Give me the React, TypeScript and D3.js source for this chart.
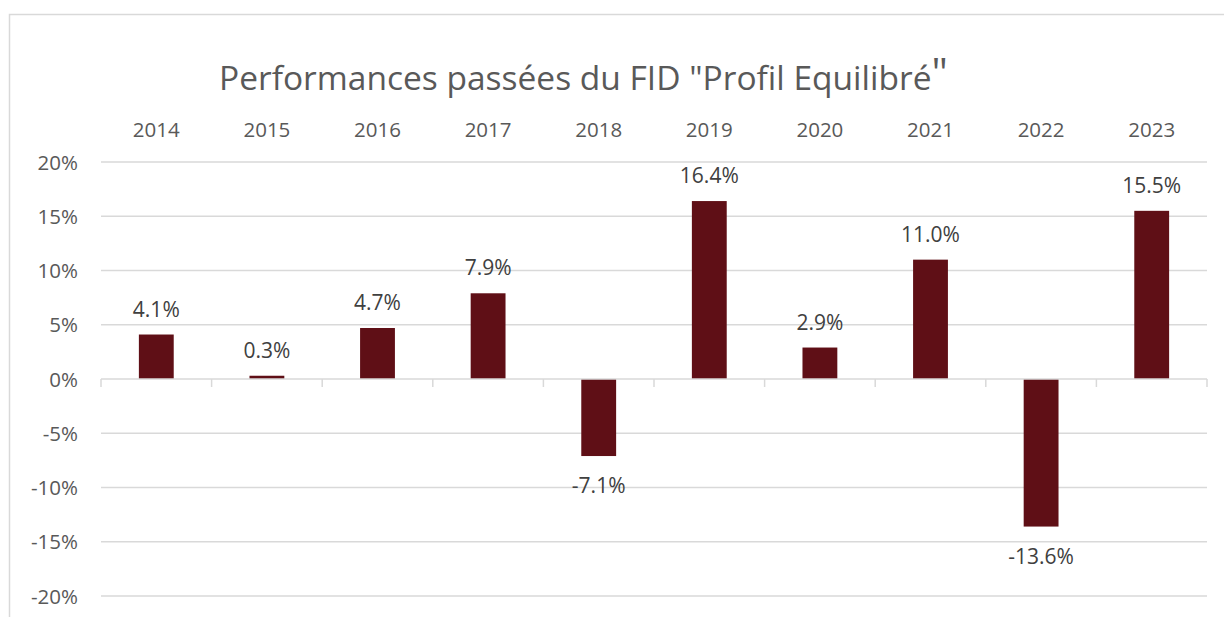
import React from "react";
import * as d3 from "d3";

const years = ["2014", "2015", "2016", "2017", "2018", "2019", "2020", "2021", "2022", "2023"];
const perf = [4.1, 0.3, 4.7, 7.9, -7.1, 16.4, 2.9, 11.0, -13.6, 15.5];
const yTicks = [20, 15, 10, 5, 0, -5, -10, -15, -20];
const titleText = 'Performances passées du FID "Profil Equilibré';
const titleEnd = '"';

const W = 1224;
const H = 617;
const left = 101;
const right = 1207;
const top = 162;
const bottom = 596;
const font = "'Open Sans', 'Noto Sans', sans-serif";
const textColor = "#595959";
const labelColor = "#404040";
const gridColor = "#d9d9d9";
const barColor = "#5f0f16";

export default function App() {
  const x = d3.scaleBand<string>().domain(years).range([left, right]).padding(0);
  const y = d3.scaleLinear().domain([-20, 20]).range([bottom, top]);
  const bw = x.bandwidth() * 0.315;
  const fmt = (v: number) => `${v.toFixed(1)}%`;

  return (
    <svg width={W} height={H} style={{ position: "absolute", left: 0, top: 0, background: "#fff" }}>
      <rect x={9.5} y={14.5} width={W + 10} height={H + 10} fill="#fff" stroke={gridColor} strokeWidth={1.5} />
      <text x={219} y={90} fontFamily={font} fontSize={33.5} fill={textColor}>
        {titleText}
        <tspan fontSize={41} dy={-3}>{titleEnd}</tspan>
      </text>
      {years.map((yr) => (
        <text key={yr} x={(x(yr) as number) + x.bandwidth() / 2} y={136.5} textAnchor="middle"
          fontFamily={font} fontSize={20.5} fill={textColor}>{yr}</text>
      ))}
      {yTicks.map((t) => (
        <g key={t}>
          {t !== 0 && (
            <line x1={left} x2={right} y1={y(t)} y2={y(t)} stroke={gridColor} strokeWidth={1.5} />
          )}
          <text x={78} y={y(t) + 7.5} textAnchor="end" fontFamily={font} fontSize={20.5} fill={textColor}>
            {`${t}%`}
          </text>
        </g>
      ))}
      {perf.map((v, i) => {
        const cx = (x(years[i]) as number) + x.bandwidth() / 2;
        const y0 = y(0);
        const yv = y(v);
        return (
          <g key={years[i]}>
            <rect x={cx - bw / 2} y={Math.min(y0, yv)} width={bw} height={Math.abs(yv - y0)} fill={barColor} />
            <text x={cx} y={v >= 0 ? yv - 18 : yv + 37} textAnchor="middle" fontFamily={font}
              fontSize={21} fill={labelColor}>{fmt(v)}</text>
          </g>
        );
      })}
      <line x1={left} x2={right} y1={y(0)} y2={y(0)} stroke={gridColor} strokeWidth={1.5} />
      {years.concat(["end"]).map((yr, i) => {
        const xx = left + i * x.step();
        return <line key={"t" + i} x1={xx} x2={xx} y1={y(0)} y2={y(0) + 8} stroke={gridColor} strokeWidth={1.5} />;
      })}
    </svg>
  );
}
